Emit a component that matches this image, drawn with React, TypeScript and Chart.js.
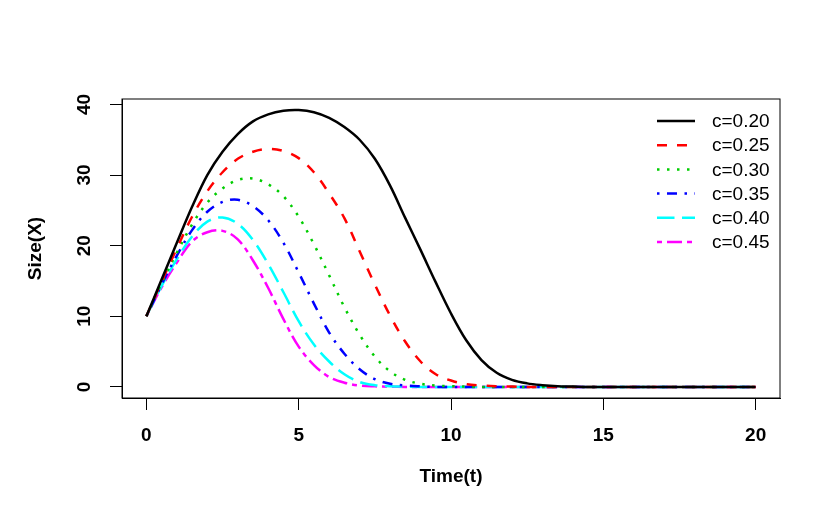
import { useEffect, useRef } from "react";
import { Chart, registerables } from "chart.js";

Chart.register(...registerables);

// time grid (t)
const times = [
  0, 0.5, 1, 1.5, 2, 2.5, 3, 3.5, 4, 4.5, 5, 5.5, 6, 6.5, 7, 7.5, 8, 8.5, 9, 9.5, 10,
  10.5, 11, 11.5, 12, 12.5, 13, 13.5, 14, 14.5, 15, 15.5, 16, 16.5, 17, 17.5, 18, 18.5, 19, 19.5, 20,
];

const xTicks = [0, 5, 10, 15, 20];
const yTicks = [0, 10, 20, 30, 40];

const seriesLabels = ["c=0.20", "c=0.25", "c=0.30", "c=0.35", "c=0.40", "c=0.45"];

// Size(X), one value per time step
const size020 = [
  10, 15.2, 20.4, 25.5, 30.0, 33.3, 35.8, 37.6, 38.6, 39.1, 39.2, 38.9, 38.1, 36.8, 35.0, 32.3, 28.5, 23.9, 19.4, 14.8, 10.4,
  6.6, 3.8, 2.0, 1.0, 0.5, 0.25, 0.1, 0.05, 0, 0, 0, 0, 0, 0, 0, 0, 0, 0, 0, 0,
];
const size025 = [
  10, 14.9, 19.6, 24.1, 27.7, 30.4, 32.3, 33.3, 33.7, 33.4, 32.4, 30.4, 27.4, 23.9, 19.2, 14.5, 10.1, 6.4, 3.6, 1.8, 0.9,
  0.4, 0.2, 0.1, 0.05, 0, 0, 0, 0, 0, 0, 0, 0, 0, 0, 0, 0, 0, 0, 0, 0,
];
const size030 = [
  10, 14.7, 19.0, 23.0, 26.1, 28.1, 29.3, 29.5, 28.7, 27.0, 24.1, 20.2, 15.8, 11.3, 7.4, 4.3, 2.2, 1.0, 0.45, 0.2, 0.1,
  0.04, 0, 0, 0, 0, 0, 0, 0, 0, 0, 0, 0, 0, 0, 0, 0, 0, 0, 0, 0,
];
const size035 = [
  10, 14.5, 18.6, 22.2, 24.8, 26.2, 26.5, 25.6, 23.6, 20.4, 16.2, 11.8, 7.7, 4.7, 2.5, 1.1, 0.45, 0.2, 0.08, 0, 0,
  0, 0, 0, 0, 0, 0, 0, 0, 0, 0, 0, 0, 0, 0, 0, 0, 0, 0, 0, 0,
];
const size040 = [
  10, 14.3, 18.1, 21.3, 23.4, 24.0, 23.1, 20.8, 17.4, 13.4, 9.3, 6.0, 3.6, 1.8, 0.7, 0.25, 0.1, 0.04, 0, 0, 0,
  0, 0, 0, 0, 0, 0, 0, 0, 0, 0, 0, 0, 0, 0, 0, 0, 0, 0, 0, 0,
];
const size045 = [
  10, 14.1, 17.6, 20.6, 21.9, 22.1, 20.9, 17.9, 14.0, 9.6, 5.7, 3.1, 1.4, 0.6, 0.2, 0.08, 0.03, 0, 0, 0, 0,
  0, 0, 0, 0, 0, 0, 0, 0, 0, 0, 0, 0, 0, 0, 0, 0, 0, 0, 0, 0,
];

const allSeries = [size020, size025, size030, size035, size040, size045];

// R-like line styles: solid, dashed, dotted, dotdash, longdash, twodash
const colors = ["#000000", "#FF0000", "#00CD00", "#0000FF", "#00FFFF", "#FF00FF"];
const dashes = [[], [10, 10], [2.5, 7.5], [2.5, 7.5, 10, 7.5], [17.5, 7.5], [5, 5, 15, 5]];

const FONT = "'Liberation Sans', Arial, Helvetica, sans-serif";

// box, rotated y tick labels and the in-plot legend (R style)
const rStylePlugin = {
  id: "rStyle",
  afterDraw(chart: any) {
    const { ctx, chartArea } = chart;
    ctx.save();
    ctx.strokeStyle = "#000";
    ctx.lineWidth = 1;
    ctx.setLineDash([]);
    ctx.strokeRect(chartArea.left, chartArea.top, chartArea.right - chartArea.left, chartArea.bottom - chartArea.top);

    const yScale = chart.scales.y;
    ctx.fillStyle = "#000";
    ctx.font = `bold 19px ${FONT}`;
    ctx.textAlign = "center";
    ctx.textBaseline = "middle";
    yScale.ticks.forEach((t: any) => {
      const py = yScale.getPixelForValue(t.value);
      ctx.save();
      ctx.translate(chartArea.left - 37, py);
      ctx.rotate(-Math.PI / 2);
      ctx.fillText(String(t.value), 0, 0);
      ctx.restore();
    });

    ctx.font = `19px ${FONT}`;
    ctx.textAlign = "left";
    chart.data.datasets.forEach((ds: any, i: number) => {
      const y = chartArea.top + 22 + i * 24.2;
      ctx.strokeStyle = ds.borderColor;
      ctx.lineWidth = ds.borderWidth;
      ctx.lineCap = "butt";
      ctx.setLineDash(ds.borderDash || []);
      ctx.beginPath();
      ctx.moveTo(chartArea.right - 123, y);
      ctx.lineTo(chartArea.right - 85, y);
      ctx.stroke();
      ctx.setLineDash([]);
      ctx.fillStyle = "#000";
      ctx.fillText(ds.label, chartArea.right - 68, y + 1);
    });
    ctx.restore();
  },
};

export default function App() {
  const chartRef = useRef<HTMLCanvasElement | null>(null);
  const chartInstanceRef = useRef<Chart | null>(null);

  useEffect(() => {
    if (!chartRef.current) return;
    if (chartInstanceRef.current) chartInstanceRef.current.destroy();

    chartInstanceRef.current = new Chart(chartRef.current, {
      type: "line",
      data: {
        datasets: allSeries.map((vals, i) => ({
          label: seriesLabels[i],
          data: times.map((t, j) => ({ x: t, y: vals[j] })),
          borderColor: colors[i],
          backgroundColor: colors[i],
          borderWidth: 2.5,
          borderDash: dashes[i],
          borderCapStyle: "butt",
          pointRadius: 0,
          tension: 0.35,
          fill: false,
        })),
      },
      options: {
        animation: false,
        responsive: true,
        maintainAspectRatio: false,
        layout: { padding: { top: 99, right: 50, left: 0, bottom: 0 } },
        plugins: {
          legend: { display: false },
          tooltip: { enabled: false },
        },
        scales: {
          x: {
            type: "linear",
            min: -0.8,
            max: 20.8,
            afterBuildTicks: (scale: any) => {
              scale.ticks = xTicks.map((v) => ({ value: v }));
            },
            afterFit: (scale: any) => {
              scale.height = 122;
            },
            grid: { drawOnChartArea: false, drawTicks: true, tickLength: 12, color: "#000", lineWidth: 1 },
            border: { display: true, color: "#000", width: 1 },
            ticks: {
              autoSkip: false,
              maxRotation: 0,
              color: "#000",
              padding: 14,
              font: { family: FONT, size: 19, weight: "bold" },
            },
            title: {
              display: true,
              text: "Time(t)",
              color: "#000",
              font: { family: FONT, size: 19, weight: "bold" },
              padding: { top: 0, bottom: 32 },
            },
          },
          y: {
            type: "linear",
            min: -1.57,
            max: 40.77,
            afterBuildTicks: (scale: any) => {
              scale.ticks = yTicks.map((v) => ({ value: v }));
            },
            afterFit: (scale: any) => {
              scale.width = 122;
            },
            grid: { drawOnChartArea: false, drawTicks: true, tickLength: 12, color: "#000", lineWidth: 1 },
            border: { display: true, color: "#000", width: 1 },
            ticks: {
              color: "rgba(0,0,0,0)",
              font: { family: FONT, size: 19, weight: "bold" },
            },
            title: {
              display: true,
              text: "Size(X)",
              color: "#000",
              font: { family: FONT, size: 19, weight: "bold" },
              padding: { top: 24, bottom: 0 },
            },
          },
        },
      } as any,
      plugins: [rStylePlugin],
    });

    return () => {
      if (chartInstanceRef.current) {
        chartInstanceRef.current.destroy();
        chartInstanceRef.current = null;
      }
    };
  }, []);

  return (
    <div style={{ position: "absolute", left: 0, top: 0, width: 830, height: 520, background: "#fff" }}>
      <canvas ref={chartRef}></canvas>
    </div>
  );
}
